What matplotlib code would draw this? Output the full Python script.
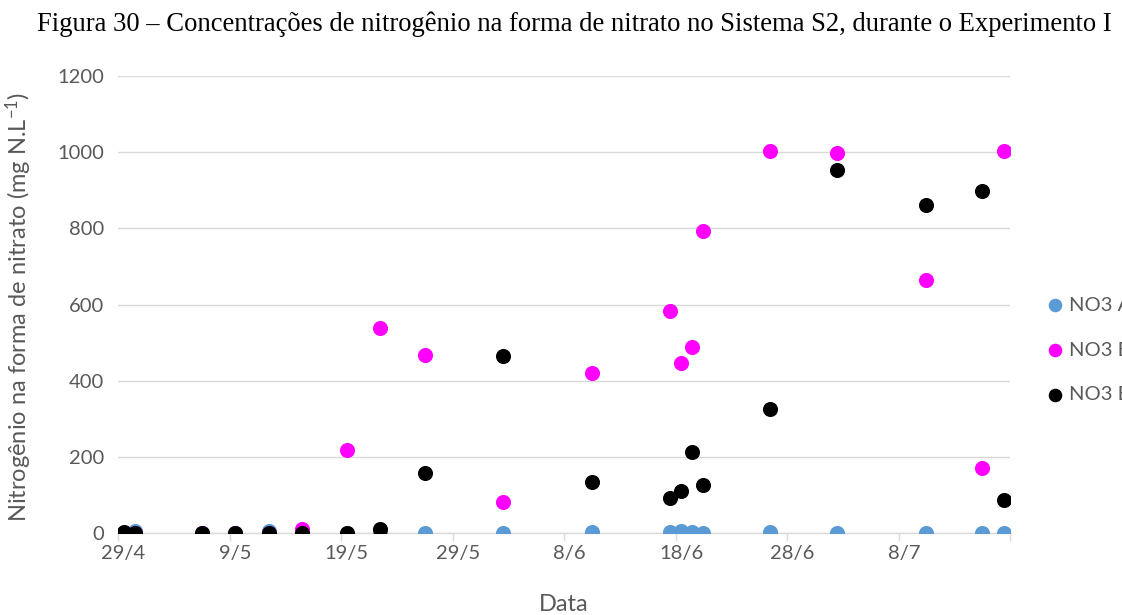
import numpy as np
import matplotlib as mpl
import matplotlib.pyplot as plt
import datetime as dt

mpl.rcParams['font.family'] = ['Lato', 'DejaVu Sans']
mpl.rcParams['mathtext.fontset'] = 'custom'
mpl.rcParams['mathtext.rm'] = 'Lato'
mpl.rcParams['mathtext.it'] = 'Lato:italic'

# sampling dates (day/month)
datas = ['29/4', '30/4', '6/5', '9/5', '12/5', '15/5', '19/5', '22/5', '26/5', '2/6',
         '10/6', '17/6', '18/6', '19/6', '20/6', '26/6', '2/7', '10/7', '15/7', '17/7']
no3_a = [0, 5, 0, 0, 6, 0, 0, 0, 0, 0, 2, 2, 4, 3, 1, 2, 0, 1, 0, 1]
no3_b = [0, 0, 0, 0, 0, 10, 218, 538, 468, 81, 421, 584, 446, 488, 793, 1003, 997, 664, 171, 1003]
no3_c = [3, 0, 0, 0, 0, 0, 0, 10, 157, 465, 133, 93, 109, 214, 125, 325, 953, 861, 898, 87]
series_names = ['NO3 Afluente', 'NO3 Efluente 1', 'NO3 Efluente 2']

tick_labels = ['29/4', '9/5', '19/5', '29/5', '8/6', '18/6', '28/6', '8/7']

def to_date(s):
    d, m = s.split('/')
    return dt.datetime(2015, int(m), int(d))

# Excel date axis: each point sits in the middle of its day
x = [to_date(s) + dt.timedelta(hours=12) for s in datas]

cores = ['#5b9bd5', '#ff00ff', '#000000']
cinza = '#595959'

fig = plt.figure(figsize=(11.22, 6.15), dpi=100)
ax = fig.add_axes([118/1122, 1-533/615, (1010-118)/1122, (533-76)/615])

for vals, cor, nome in zip([no3_a, no3_b, no3_c], cores, series_names):
    ax.scatter(x, vals, s=118, color=cor, label=nome, zorder=3, linewidths=0)

x0 = to_date('29/4')
ax.set_xlim(x0, x0 + dt.timedelta(days=80))
ax.set_ylim(0, 1200)
ax.set_yticks(np.arange(0, 1201, 200))

# tick marks at slot edges, labels in the middle of the day slot
major = [x0 + dt.timedelta(days=10*i) for i in range(9)]
minor = [x0 + dt.timedelta(days=10*i, hours=12) for i in range(8)]
ax.set_xticks(major)
ax.set_xticklabels([''] * len(major))
ax.set_xticks(minor, minor=True)
ax.set_xticklabels(tick_labels, minor=True)
ax.tick_params(axis='x', which='major', length=6, width=1, color='#d9d9d9', direction='out')
ax.tick_params(axis='x', which='minor', length=0, pad=9, labelsize=14.5, labelcolor=cinza)
ax.tick_params(axis='y', length=0, pad=10, labelsize=14.5, labelcolor=cinza)

ax.grid(axis='y', color='#d9d9d9', linewidth=1.0, zorder=0)
ax.set_axisbelow(True)
for sp in ['top', 'right', 'left']:
    ax.spines[sp].set_visible(False)
ax.spines['bottom'].set_color('#d9d9d9')
ax.spines['bottom'].set_linewidth(1.0)

ax.set_ylabel('Nitrogênio na forma de nitrato (mg N.L$^{-1}$)', fontsize=17, color=cinza)
ax.yaxis.set_label_coords(34/1122, 1-307/615, transform=fig.transFigure)
ax.set_xlabel('Data', fontsize=17, color=cinza)
ax.xaxis.set_label_coords(564/1122, 1-594/615, transform=fig.transFigure)

ax.legend(loc='center left', bbox_to_anchor=(1027/1122, 1-350/615), bbox_transform=fig.transFigure,
          frameon=False, fontsize=14.5, labelcolor=cinza, handletextpad=-0.3, labelspacing=1.38,
          markerscale=0.9, borderaxespad=0)

fig.text(0.512, 1-24/615, 'Figura 30 – Concentrações de nitrogênio na forma de nitrato no Sistema S2, durante o Experimento I',
         family='Liberation Serif', fontsize=19.2, ha='center', va='center', color='black')

fig.savefig('out.png', dpi=100)
